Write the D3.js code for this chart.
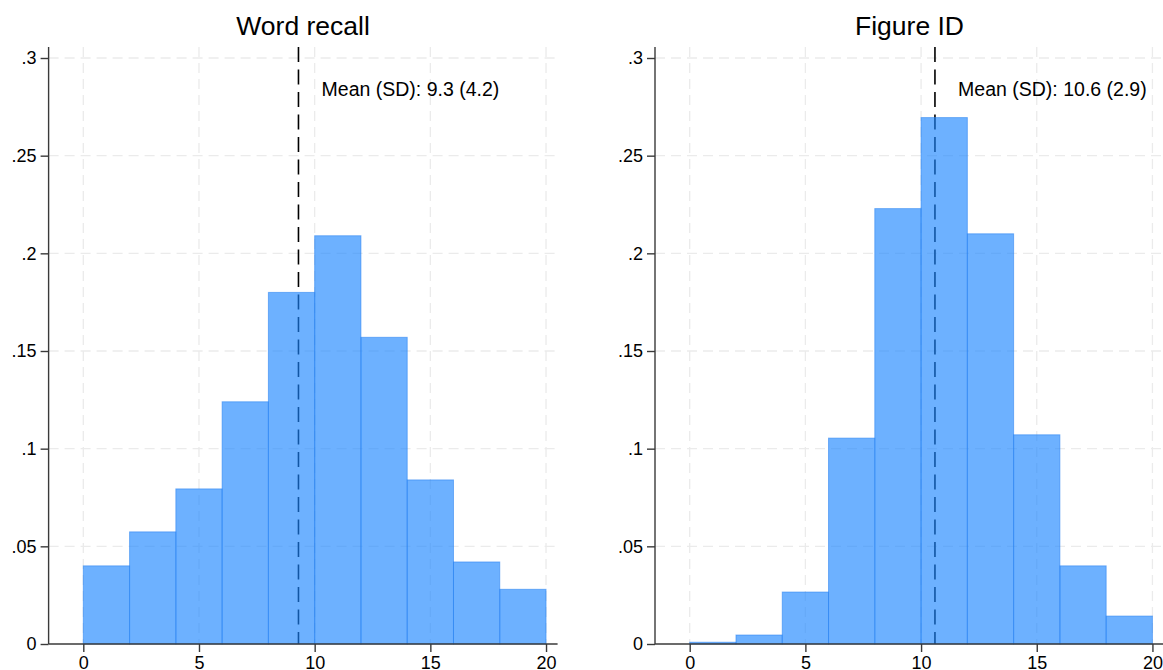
<!DOCTYPE html>
<html>
<head>
<meta charset="utf-8">
<script src="https://cdn.jsdelivr.net/npm/d3@7"></script>
<style>
  html, body { margin: 0; padding: 0; background: #fff; }
  svg { display: block; font-family: "Liberation Sans", Arial, sans-serif; }
</style>
</head>
<body>
<svg id="chart" width="1163" height="670"></svg>
<script>
// Histogram bin edges (width 2) shared by both panels
const binEdges = [0, 2, 4, 6, 8, 10, 12, 14, 16, 18, 20];

// Fraction of respondents in each bin
const wordRecall = [0.040, 0.0574, 0.0794, 0.124, 0.180, 0.209, 0.157, 0.084, 0.042, 0.028];
const figureId   = [0.0009, 0.0046, 0.0266, 0.1054, 0.2229, 0.2695, 0.210, 0.1071, 0.040, 0.0143];

const titles = ["Word recall", "Figure ID"];
const means = [9.3, 10.6];
const sds = [4.2, 2.9];

const xTicks = [0, 5, 10, 15, 20];
const yTicks = [0, 0.05, 0.1, 0.15, 0.2, 0.25, 0.3];

const svg = d3.select("#chart");

const panels = [
  { title: titles[0], values: wordRecall, mean: means[0], sd: sds[0], left: 48.6, right: 557.6 },
  { title: titles[1], values: figureId,   mean: means[1], sd: sds[1], left: 655.0, right: 1164.0 }
];

const yTop = 47, yBottom = 644;
const y = d3.scaleLinear().domain([0, 0.3]).range([yBottom, 58]);
const fmtY = v => v === 0 ? "0" : d3.format("")(+v.toFixed(2)).replace(/^0\./, ".");

const gridColor = "#ebebeb";
const axisColor = "#3a3a3a";

panels.forEach(p => {
  const x = d3.scaleLinear().domain([-1.5, 20.5]).range([p.left, p.right]);
  const g = svg.append("g");

  // Grid
  g.append("g").selectAll("line.h").data(yTicks.filter(t => t > 0)).join("line")
    .attr("x1", p.left).attr("x2", p.right)
    .attr("y1", d => y(d)).attr("y2", d => y(d))
    .attr("stroke", gridColor).attr("stroke-width", 1.3)
    .attr("stroke-dasharray", "10,6");
  g.append("g").selectAll("line.v").data(xTicks).join("line")
    .attr("x1", d => x(d)).attr("x2", d => x(d))
    .attr("y1", yTop).attr("y2", yBottom)
    .attr("stroke", gridColor).attr("stroke-width", 1.3)
    .attr("stroke-dasharray", "10,6");

  // Mean line (drawn beneath the translucent bars)
  g.append("line")
    .attr("x1", x(p.mean)).attr("x2", x(p.mean))
    .attr("y1", yTop).attr("y2", yBottom)
    .attr("stroke", "#000").attr("stroke-width", 1.6)
    .attr("stroke-dasharray", "15,7.5");

  // Bars
  const bars = p.values.map((v, i) => ({ x0: binEdges[i], x1: binEdges[i + 1], v }));
  g.append("g").selectAll("rect").data(bars).join("rect")
    .attr("x", d => x(d.x0))
    .attr("width", d => x(d.x1) - x(d.x0))
    .attr("y", d => y(d.v))
    .attr("height", d => y(0) - y(d.v))
    .attr("fill", "rgb(26,133,255)").attr("fill-opacity", 0.64)
    .attr("stroke", "rgb(40,130,240)").attr("stroke-opacity", 0.55)
    .attr("stroke-width", 1);

  // Y axis
  const yAxis = g.append("g")
    .attr("transform", `translate(${p.left},0)`)
    .call(d3.axisLeft(y).tickValues(yTicks).tickFormat(fmtY).tickSize(8).tickPadding(4).tickSizeOuter(0));
  yAxis.select(".domain").remove();
  yAxis.append("line").attr("x1", 0).attr("x2", 0).attr("y1", yTop).attr("y2", yBottom)
    .attr("stroke", axisColor).attr("stroke-width", 1.4);
  yAxis.selectAll(".tick line").attr("stroke", axisColor).attr("stroke-width", 1.4);
  yAxis.selectAll(".tick text").attr("fill", "#000").style("font-size", "18px");

  // X axis
  const xAxis = g.append("g")
    .attr("transform", `translate(0,${yBottom})`)
    .call(d3.axisBottom(x).tickValues(xTicks).tickFormat(d3.format("d")).tickSize(8).tickPadding(4).tickSizeOuter(0));
  xAxis.select(".domain").remove();
  xAxis.append("line").attr("x1", p.left).attr("x2", p.right).attr("y1", 0).attr("y2", 0)
    .attr("stroke", axisColor).attr("stroke-width", 1.4);
  xAxis.selectAll(".tick line").attr("stroke", axisColor).attr("stroke-width", 1.4);
  xAxis.selectAll(".tick text").attr("fill", "#000").style("font-size", "18px");

  // Mean (SD) annotation
  g.append("text")
    .attr("x", x(p.mean + 1)).attr("y", y(0.2805))
    .attr("fill", "#000").style("font-size", "19.5px")
    .text(`Mean (SD): ${p.mean.toFixed(1)} (${p.sd.toFixed(1)})`);

  // Panel title
  g.append("text")
    .attr("x", (p.left + p.right) / 2).attr("y", 35)
    .attr("text-anchor", "middle")
    .attr("fill", "#000").style("font-size", "26.5px")
    .text(p.title);
});
</script>
</body>
</html>
